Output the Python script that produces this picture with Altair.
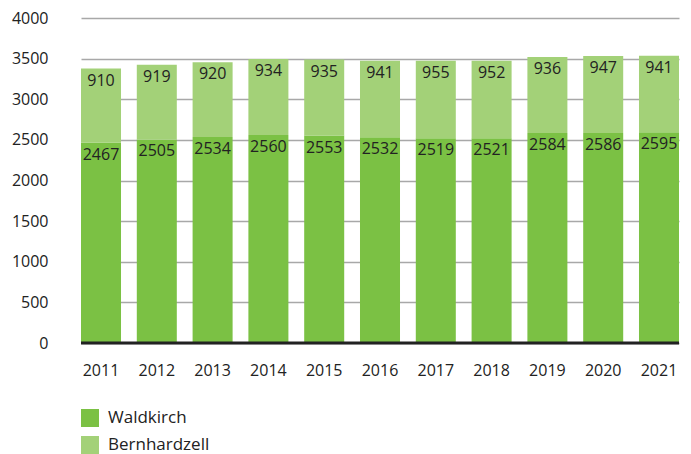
import altair as alt
import pandas as pd

years = ["2011", "2012", "2013", "2014", "2015", "2016", "2017", "2018", "2019", "2020", "2021"]
waldkirch = [2467, 2505, 2534, 2560, 2553, 2532, 2519, 2521, 2584, 2586, 2595]
bernhardzell = [910, 919, 920, 934, 935, 941, 955, 952, 936, 947, 941]
series = ["Waldkirch", "Bernhardzell"]
colors = ["#7bc144", "#a3d178"]

rows = []
for i, y in enumerate(years):
    rows.append({"year": y, "series": "Waldkirch", "value": waldkirch[i], "ord": 0})
    rows.append({"year": y, "series": "Bernhardzell", "value": bernhardzell[i], "ord": 1})
df = pd.DataFrame(rows)

FONT = "Open Sans"

base = alt.Chart(df).transform_stack(
    stack="value", groupby=["year"], as_=["v0", "v1"], sort=[alt.SortField("ord")]
)

xenc = alt.X("year:N", title=None,
             scale=alt.Scale(paddingInner=0.283, paddingOuter=0),
             axis=alt.Axis(labelAngle=0, labelFontSize=16, labelFont=FONT, labelColor="#222",
                           labelPadding=19, domain=False, ticks=False))

bars = base.mark_bar().encode(
    x=xenc,
    y=alt.Y("v1:Q", title=None,
            scale=alt.Scale(domain=[0, 4000]),
            axis=alt.Axis(values=[0, 500, 1000, 1500, 2000, 2500, 3000, 3500, 4000],
                          format="d",
                          labelFontSize=16, labelFont=FONT, labelColor="#222",
                          labelPadding=33, domain=False, ticks=False,
                          gridColor="#a8a8a8", gridWidth=1.5)),
    y2="v0:Q",
    color=alt.Color("series:N", scale=alt.Scale(domain=series, range=colors),
                    legend=alt.Legend(title=None, orient="none", legendX=0, legendY=391,
                                      symbolType="square", symbolSize=324, symbolStrokeWidth=0,
                                      labelFontSize=17, labelFont=FONT, labelColor="#222",
                                      labelOffset=9, rowPadding=9)),
    order=alt.Order("ord:Q"),
)

labels = base.mark_text(baseline="top", dy=4, fontSize=16, font=FONT, color="#222").encode(
    x=alt.X("year:N"),
    y=alt.Y("v1:Q"),
    text=alt.Text("value:Q"),
)

zero = alt.Chart(pd.DataFrame({"z": [0]})).mark_rule(color="#222", strokeWidth=3).encode(
    y=alt.Y("z:Q")
)

chart = alt.layer(bars, labels, zero).properties(
    width=598, height=325,
    autosize=alt.AutoSizeParams(type="none"),
    padding={"left": 81, "top": 18, "right": 12, "bottom": 111},
).configure_view(strokeWidth=0)

chart.save("out.html", embed_options={"renderer": "svg", "actions": False})
